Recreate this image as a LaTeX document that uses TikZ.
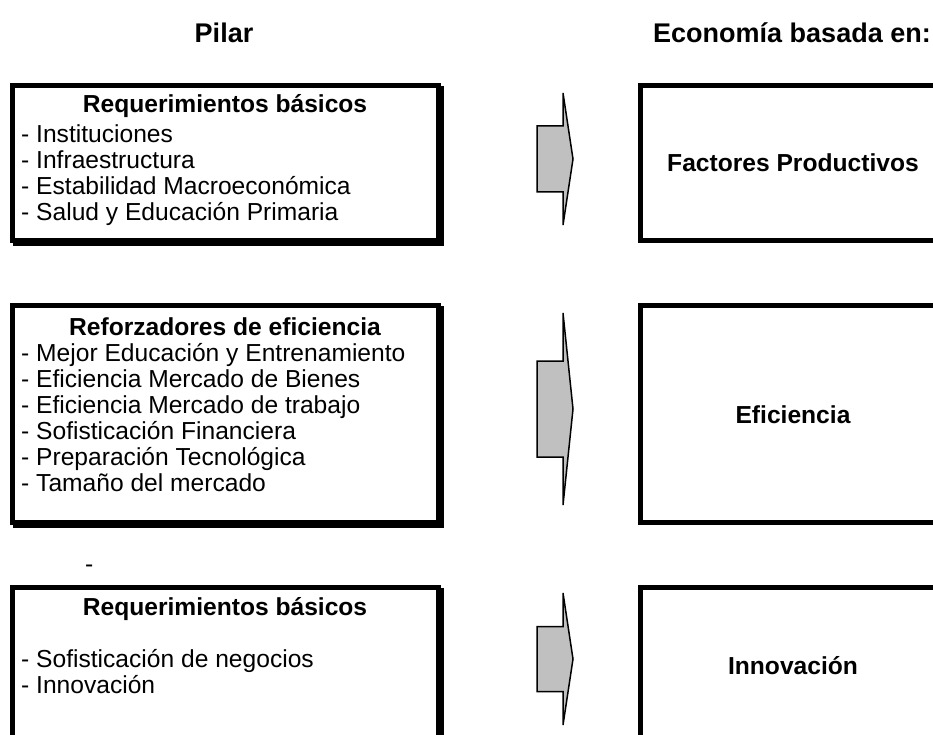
\documentclass[tikz,border=0pt]{standalone}
\usepackage{fontspec}
\setmainfont{Liberation Sans}
\definecolor{arrowgray}{RGB}{192,192,192}
\begin{document}
\begin{tikzpicture}[x=1pt,y=-1pt,
  box/.style={draw, line width=5pt, inner sep=0pt, outer sep=0pt, anchor=north west, fill=white},
  leftbox/.style={box, preaction={draw, line width=5pt, transform canvas={xshift=3pt, yshift=-3pt}}},
  itemtext/.style={anchor=base west, inner sep=0pt, font=\fontsize{24.6}{26}\selectfont},
  titletext/.style={anchor=base, inner sep=0pt, font=\bfseries\fontsize{24.6}{26}\selectfont},
  headtext/.style={anchor=base, inner sep=0pt, font=\bfseries\fontsize{27}{30}\selectfont},
  blockarrow/.style={draw, line width=1.5pt, fill=arrowgray, line join=miter}
]
\useasboundingbox (0,0) rectangle (933,735);
\clip (0,0) rectangle (933,735);

% headers
\node[headtext] (hpilar) at (224,43) {Pilar};
\node[headtext] (heco) at (792,43) {Economía basada en:};

% left boxes
\node[leftbox, minimum width=425.5pt, minimum height=154.5pt] (b1) at (12.5,85.5) {};
\node[leftbox, minimum width=425.5pt, minimum height=217pt] (b2) at (12.5,305.5) {};
\node[leftbox, minimum width=425.5pt, minimum height=200pt] (b3) at (12.5,587) {};

% right boxes
\node[box, minimum width=330pt, minimum height=154.5pt] (r1) at (640.5,85.5) {};
\node[box, minimum width=330pt, minimum height=217pt] (r2) at (640.5,305.5) {};
\node[box, minimum width=330pt, minimum height=200pt] (r3) at (640.5,587) {};

% box 1 text
\node[titletext] (t1) at (225,113) {Requerimientos básicos};
\node[itemtext] (i11) at (21,143) {- Instituciones};
\node[itemtext] (i12) at (21,169) {- Infraestructura};
\node[itemtext] (i13) at (21,195) {- Estabilidad Macroeconómica};
\node[itemtext] (i14) at (21,221) {- Salud y Educación Primaria};

% box 2 text
\node[titletext] (t2) at (225,335) {Reforzadores de eficiencia};
\node[itemtext] (i21) at (21,361) {- Mejor Educación y Entrenamiento};
\node[itemtext] (i22) at (21,387) {- Eficiencia Mercado de Bienes};
\node[itemtext] (i23) at (21,413) {- Eficiencia Mercado de trabajo};
\node[itemtext] (i24) at (21,439) {- Sofisticación Financiera};
\node[itemtext] (i25) at (21,465) {- Preparación Tecnológica};
\node[itemtext] (i26) at (21,491) {- Tamaño del mercado};

% stray dash
\node[itemtext] (dash) at (85,572) {-};

% box 3 text
\node[titletext] (t3) at (225,615) {Requerimientos básicos};
\node[itemtext] (i31) at (21,667) {- Sofisticación de negocios};
\node[itemtext] (i32) at (21,693) {- Innovación};

% right box text
\node[titletext] (rt1) at (793,172) {Factores Productivos};
\node[titletext] (rt2) at (793,423) {Eficiencia};
\node[titletext] (rt3) at (793,674) {Innovación};

% block arrows
\coordinate (a1) at (550,159);
\coordinate (a2) at (550,409);
\coordinate (a3) at (550,659);
\begin{scope}[shift={(a1)}]
  \draw[blockarrow] (-13,-33) -- (13,-33) -- (13,-66) -- (23,0) -- (13,66) -- (13,33) -- (-13,33) -- cycle;
\end{scope}
\begin{scope}[shift={(a2)}]
  \draw[blockarrow] (-13,-48) -- (13,-48) -- (13,-96) -- (23,0) -- (13,96) -- (13,48) -- (-13,48) -- cycle;
\end{scope}
\begin{scope}[shift={(a3)}]
  \draw[blockarrow] (-13,-32.5) -- (13,-32.5) -- (13,-66) -- (23,0) -- (13,66) -- (13,32.5) -- (-13,32.5) -- cycle;
\end{scope}
\end{tikzpicture}
\end{document}
